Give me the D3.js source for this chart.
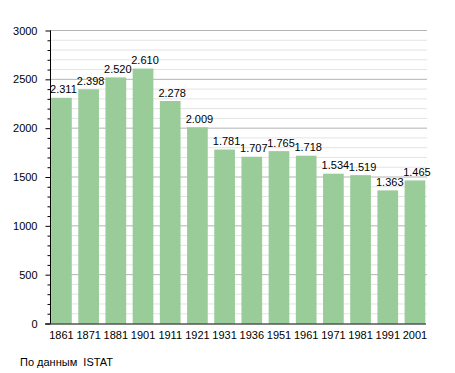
<!DOCTYPE html>
<html><head><meta charset="utf-8">
<script src="https://cdn.jsdelivr.net/npm/d3@7"></script>
<style>body{margin:0;background:#fff}svg{display:block}text{font-family:"Liberation Sans",Arial,sans-serif}</style>
</head><body>
<svg id="c" width="455" height="373"></svg>
<script>
const years = ["1861","1871","1881","1901","1911","1921","1931","1936","1951","1961","1971","1981","1991","2001"];
const population = [2311,2398,2520,2610,2278,2009,1781,1707,1765,1718,1534,1519,1363,1465];
const valueLabels = ["2.311","2.398","2.520","2.610","2.278","2.009","1.781","1.707","1.765","1.718","1.534","1.519","1.363","1.465"];
const majorTicks = [0,500,1000,1500,2000,2500,3000];
const minorTicks = d3.range(0,3001,100);
const sourceNote = "По данным  ISTAT";

const svg = d3.select("#c");
const x = d3.scaleBand().domain(years).range([50,426.4]).paddingInner(0.239).paddingOuter(0.04);
const y = d3.scaleLinear().domain([0,3000]).range([323.5,30.5]);

// minor gridlines
svg.append("g").selectAll("line").data(minorTicks.filter(v=>v%500!==0)).join("line")
  .attr("x1",50).attr("x2",427).attr("y1",d=>y(d)).attr("y2",d=>y(d))
  .attr("stroke","#e4e4e4").attr("stroke-width",1);
// major gridlines
svg.append("g").selectAll("line").data(majorTicks.filter(v=>v>0)).join("line")
  .attr("x1",50).attr("x2",427).attr("y1",d=>y(d)).attr("y2",d=>y(d))
  .attr("stroke","#b4b4b4").attr("stroke-width",1);

// bars
svg.append("g").selectAll("rect").data(population).join("rect")
  .attr("x",(d,i)=>x(years[i])).attr("width",x.bandwidth())
  .attr("y",d=>y(d)).attr("height",d=>y(0)-y(d))
  .attr("fill","#99cc99");

// value labels
svg.append("g").selectAll("text").data(population).join("text")
  .attr("x",(d,i)=>x(years[i])+x.bandwidth()/2+2).attr("y",d=>y(d)-4.5)
  .attr("text-anchor","middle").attr("font-size",11).attr("fill","#000")
  .text((d,i)=>valueLabels[i]);

// y axis
const yAxis = d3.axisLeft(y).tickValues(majorTicks).tickSize(5).tickPadding(8).tickFormat(d3.format("d"));
const gy = svg.append("g").attr("transform","translate(50.5,0)").call(yAxis);
gy.select(".domain").remove();
gy.selectAll("text").attr("font-size",11).attr("font-family","Liberation Sans, Arial, sans-serif").attr("fill","#000");
gy.selectAll(".tick line").attr("stroke","#000");
const yMinor = d3.axisLeft(y).tickValues(minorTicks.filter(v=>v%500!==0)).tickSize(3).tickFormat("");
const gym = svg.append("g").attr("transform","translate(50.5,0)").call(yMinor);
gym.select(".domain").remove();
gym.selectAll(".tick line").attr("stroke","#000");
svg.append("line").attr("x1",50.5).attr("x2",50.5).attr("y1",y(3000)).attr("y2",y(0)).attr("stroke","#000");

// x axis
const xAxis = d3.axisBottom(x).tickSize(0).tickPadding(8);
const gx = svg.append("g").attr("transform","translate(0,"+y(0)+")").call(xAxis);
gx.select(".domain").remove();
gx.selectAll("text").attr("font-size",11).attr("font-family","Liberation Sans, Arial, sans-serif").attr("fill","#000");
svg.append("line").attr("x1",45).attr("x2",426).attr("y1",y(0)+0.5).attr("y2",y(0)+0.5).attr("stroke","#000");

svg.append("text").attr("x",20).attr("y",366).attr("font-size",11).attr("fill","#000").attr("xml:space","preserve").text(sourceNote);
</script>
</body></html>
